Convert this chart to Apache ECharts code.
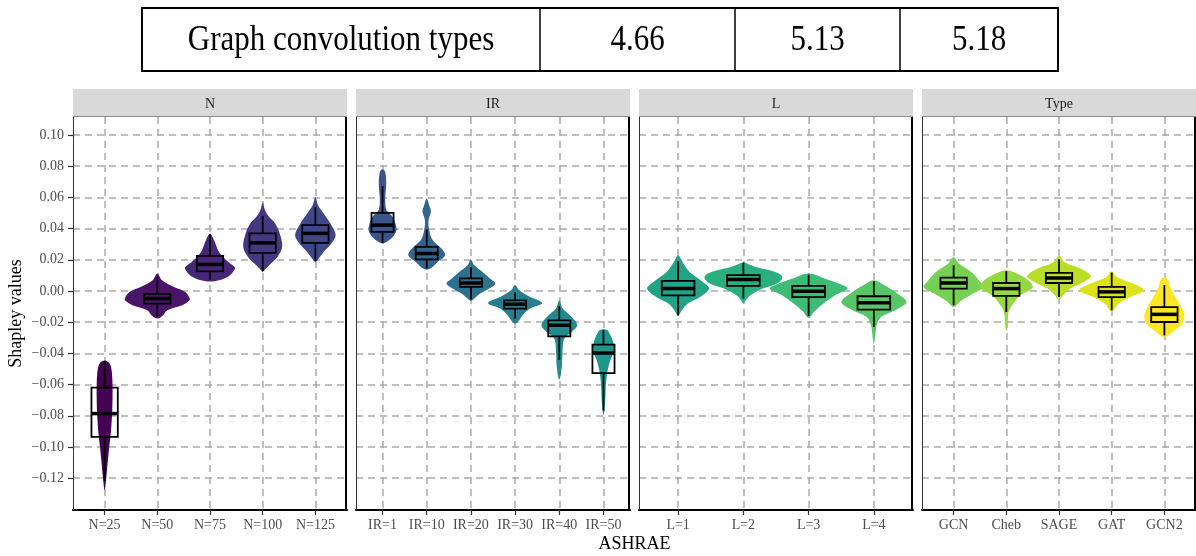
<!DOCTYPE html>
<html><head><meta charset="utf-8">
<script src="https://cdn.jsdelivr.net/npm/echarts@6/dist/echarts.min.js"></script>
<style>html,body{margin:0;padding:0;background:#fff}#c{width:1196px;height:556px}</style>
</head><body><div id="c"></div>
<script>
// ---------- data ----------
const panelTitles = ['N', 'IR', 'L', 'Type'];
const catN = ['N=25', 'N=50', 'N=75', 'N=100', 'N=125'];
const catIR = ['IR=1', 'IR=10', 'IR=20', 'IR=30', 'IR=40', 'IR=50'];
const catL = ['L=1', 'L=2', 'L=3', 'L=4'];
const catType = ['GCN', 'Cheb', 'SAGE', 'GAT', 'GCN2'];
const yTicks = [-0.12, -0.10, -0.08, -0.06, -0.04, -0.02, 0.00, 0.02, 0.04, 0.06, 0.08, 0.10];
const tableCells = ['Graph convolution types', '4.66', '5.13', '5.18'];
const xTitle = 'ASHRAE';
const yTitle = 'Shapley values';

// box stats: [lower whisker, q1, median, q3, upper whisker]
const boxN = [
  [-0.1220, -0.0935, -0.0786, -0.0620, -0.0447],
  [-0.0163, -0.0081, -0.0049, -0.0019, 0.0086],
  [0.0072, 0.0125, 0.0170, 0.0225, 0.0364],
  [0.0128, 0.0244, 0.0308, 0.0369, 0.0480],
  [0.0193, 0.0308, 0.0369, 0.0422, 0.0540]
];
const boxIR = [
  [0.0308, 0.0379, 0.0422, 0.0501, 0.0672],
  [0.0144, 0.0202, 0.0240, 0.0283, 0.0394],
  [-0.0055, 0.0026, 0.0051, 0.0080, 0.0154],
  [-0.0177, -0.0113, -0.0085, -0.0060, -0.0006],
  [-0.0441, -0.0291, -0.0220, -0.0188, -0.0098],
  [-0.0766, -0.0527, -0.0398, -0.0344, -0.0252]
];
const boxL = [
  [-0.0156, -0.0028, 0.0015, 0.0064, 0.0191],
  [-0.0049, 0.0032, 0.0073, 0.0101, 0.0182],
  [-0.0160, -0.0039, -0.0002, 0.0032, 0.0105],
  [-0.0231, -0.0120, -0.0075, -0.0034, 0.0062]
];
const boxType = [
  [-0.0092, 0.0015, 0.0051, 0.0086, 0.0165],
  [-0.0135, -0.0032, 0.0015, 0.0051, 0.0127],
  [-0.0039, 0.0051, 0.0083, 0.0116, 0.0204],
  [-0.0124, -0.0039, -0.0006, 0.0026, 0.0118],
  [-0.0285, -0.0199, -0.0150, -0.0103, 0.0037]
];

// violin density profiles: [value, half-width in category units], top to bottom
const violinN = [
  [[-0.0447, 0], [-0.0455, 0.07], [-0.0480, 0.115], [-0.053, 0.14], [-0.060, 0.15], [-0.070, 0.15], [-0.080, 0.14], [-0.092, 0.115], [-0.100, 0.088], [-0.110, 0.058], [-0.120, 0.03], [-0.1276, 0]],
  [[0.0112, 0], [0.0069, 0.089], [0.0026, 0.317], [-0.0006, 0.531], [-0.0049, 0.617], [-0.0065, 0.60], [-0.0092, 0.474], [-0.0124, 0.19], [-0.0156, 0.11], [-0.0177, 0]],
  [[0.0369, 0], [0.0326, 0.076], [0.0261, 0.152], [0.0218, 0.243], [0.0186, 0.347], [0.0150, 0.474], [0.0122, 0.436], [0.0090, 0.332], [0.0069, 0.17], [0.0060, 0]],
  [[0.0565, 0], [0.0518, 0.044], [0.0475, 0.12], [0.0433, 0.237], [0.0369, 0.323], [0.0283, 0.37], [0.0218, 0.279], [0.0176, 0.157], [0.0133, 0.032], [0.0122, 0]],
  [[0.0600, 0], [0.0550, 0.051], [0.0497, 0.157], [0.0433, 0.285], [0.0358, 0.385], [0.0304, 0.304], [0.0250, 0.157], [0.0208, 0.063], [0.0186, 0]]
];
const violinIR = [
  [[0.0780, 0], [0.0765, 0.057], [0.0690, 0.084], [0.0583, 0.061], [0.0518, 0.091], [0.0475, 0.227], [0.0400, 0.317], [0.0358, 0.265], [0.0326, 0.152], [0.0304, 0]],
  [[0.0593, 0], [0.0550, 0.057], [0.0507, 0.095], [0.0454, 0.041], [0.0390, 0.057], [0.0326, 0.132], [0.0272, 0.333], [0.0229, 0.415], [0.0186, 0.245], [0.0154, 0.132], [0.0137, 0]],
  [[0.0202, 0], [0.0165, 0.075], [0.0122, 0.265], [0.0080, 0.431], [0.0048, 0.551], [0.0015, 0.415], [-0.0017, 0.209], [-0.0049, 0.075], [-0.0064, 0]],
  [[0.0037, 0], [0.0004, 0.095], [-0.0039, 0.34], [-0.0077, 0.612], [-0.0113, 0.34], [-0.0156, 0.17], [-0.0188, 0.091], [-0.0210, 0]],
  [[-0.0060, 0], [-0.0113, 0.075], [-0.0167, 0.283], [-0.0220, 0.404], [-0.0263, 0.283], [-0.0306, 0.113], [-0.0381, 0.075], [-0.0488, 0.057], [-0.0569, 0]],
  [[-0.0246, 0], [-0.0252, 0.09], [-0.0270, 0.13], [-0.0317, 0.209], [-0.0381, 0.238], [-0.0445, 0.152], [-0.0509, 0.095], [-0.0595, 0.057], [-0.0702, 0.039], [-0.0798, 0]]
];
const violinL = [
  [[0.0229, 0], [0.0186, 0.067], [0.0122, 0.176], [0.0058, 0.38], [0.0015, 0.475], [-0.0039, 0.337], [-0.0081, 0.15], [-0.0124, 0.057], [-0.0160, 0]],
  [[0.0182, 0], [0.0170, 0.09], [0.0154, 0.19], [0.0122, 0.489], [0.0090, 0.597], [0.0047, 0.516], [0.0015, 0.299], [-0.0028, 0.109], [-0.0060, 0.035], [-0.0081, 0]],
  [[0.0112, 0], [0.0080, 0.245], [0.0047, 0.461], [0.0015, 0.597], [-0.0028, 0.407], [-0.0081, 0.23], [-0.0135, 0.081], [-0.0173, 0]],
  [[0.0069, 0], [0.0037, 0.162], [-0.0006, 0.326], [-0.0071, 0.499], [-0.0124, 0.326], [-0.0167, 0.109], [-0.0220, 0.043], [-0.0263, 0.028], [-0.0338, 0]]
];
const violinType = [
  [[0.0218, 0], [0.0176, 0.101], [0.0122, 0.336], [0.0058, 0.505], [0.0026, 0.569], [-0.0017, 0.37], [-0.0060, 0.156], [-0.0090, 0.057], [-0.0103, 0]],
  [[0.0133, 0], [0.0101, 0.269], [0.0058, 0.455], [0.0019, 0.497], [-0.0028, 0.269], [-0.0081, 0.135], [-0.0135, 0.044], [-0.0199, 0.027], [-0.0259, 0]],
  [[0.0229, 0], [0.0186, 0.101], [0.0144, 0.404], [0.0096, 0.605], [0.0058, 0.471], [0.0015, 0.218], [-0.0028, 0.08], [-0.0053, 0]],
  [[0.0127, 0], [0.0090, 0.101], [0.0047, 0.404], [0.0004, 0.613], [-0.0039, 0.353], [-0.0081, 0.135], [-0.0130, 0]],
  [[0.0086, 0], [0.0075, 0.066], [0.0037, 0.101], [-0.0028, 0.186], [-0.0092, 0.304], [-0.0156, 0.38], [-0.0210, 0.343], [-0.0252, 0.201], [-0.0295, 0]]
];

// viridis palette (20 levels)
const viridis = ['#440154', '#481568', '#482677', '#453781', '#3F4788', '#39558C', '#32648E', '#2D718E', '#287D8E', '#238A8D',
  '#1F968B', '#20A386', '#29AF7F', '#3CBC75', '#56C667', '#75D054', '#95D840', '#BADE28', '#DDE318', '#FDE725'];

// ---------- layout ----------
const FONT = 'Liberation Serif';
const panelLeft0 = 73, panelStep = 283, panelW = 274, panelTop = 117, panelH = 393;
const stripTop = 89, stripH = 28;
const yMin = -0.1404, yMax = 0.1115;

const panelCats = [catN, catIR, catL, catType];
const panelBoxes = [boxN, boxIR, boxL, boxType];
const panelViolins = [violinN, violinIR, violinL, violinType];

const grid = [], xAxis = [], yAxis = [], series = [], graphic = [];
let colorIdx = 0;
const gridColor = '#ABABAB';

panelCats.forEach((cats, p) => {
  const left = panelLeft0 + panelStep * p;
  grid.push({ left: left, top: panelTop, width: panelW, height: panelH, show: false });
  const idx = cats.map((c, i) => i + 1);
  xAxis.push({
    type: 'value', gridIndex: p, min: 0.4, max: cats.length + 0.6,
    axisLine: { show: true, onZero: false, lineStyle: { color: '#000', width: 2 } },
    axisTick: { show: true, customValues: idx, length: 5, lineStyle: { color: '#333', width: 1.2 } },
    axisLabel: { customValues: idx, formatter: v => cats[Math.round(v) - 1] || '', margin: 8,
      fontFamily: FONT, fontSize: 14, color: '#4D4D4D' },
    splitLine: { show: true, lineStyle: { color: gridColor, width: 1.5, type: [7, 5] } }
  });
  yAxis.push({
    type: 'value', gridIndex: p, min: yMin, max: yMax,
    axisLine: { show: false, onZero: false },
    axisTick: { show: p === 0, customValues: yTicks, length: 5, lineStyle: { color: '#333', width: 1.2 } },
    axisLabel: { show: p === 0, customValues: yTicks, margin: 9,
      formatter: v => v.toFixed(2).replace('-', '\u2212'),
      fontFamily: FONT, fontSize: 14, color: '#4D4D4D' },
    splitLine: { show: true, lineStyle: { color: gridColor, width: 1.5, type: [7, 5] } }
  });
  const boxes = panelBoxes[p], violins = panelViolins[p];
  const colors = cats.map(() => viridis[colorIdx++]);
  series.push({
    type: 'custom', xAxisIndex: p, yAxisIndex: p,
    data: idx.map(i => [i, boxes[i - 1][2]]),
    renderItem: function (params, api) {
      const k = params.dataIndex, cx = k + 1;
      const prof = violins[k], b = boxes[k];
      const rightSide = prof.map(([v, hw]) => api.coord([cx + hw, v]));
      const leftSide = prof.slice(1, -1).reverse().map(([v, hw]) => api.coord([cx - hw, v]));
      const pts = rightSide.concat(leftSide);
      const bw = 0.25;
      const tl = api.coord([cx - bw, b[3]]), br = api.coord([cx + bw, b[1]]);
      const m1 = api.coord([cx - bw, b[2]]), m2 = api.coord([cx + bw, b[2]]);
      const wTop1 = api.coord([cx, b[4]]), wTop2 = api.coord([cx, b[3]]);
      const wBot1 = api.coord([cx, b[1]]), wBot2 = api.coord([cx, b[0]]);
      const line = (a, c, w) => ({ type: 'line', shape: { x1: a[0], y1: a[1], x2: c[0], y2: c[1] },
        style: { stroke: '#000', lineWidth: w } });
      return {
        type: 'group', children: [
          { type: 'polygon', shape: { points: pts, smooth: 0.35 }, style: { fill: colors[k], stroke: null } },
          line(wTop1, wTop2, 1.8),
          line(wBot1, wBot2, 1.8),
          { type: 'rect', shape: { x: tl[0], y: tl[1], width: br[0] - tl[0], height: br[1] - tl[1] },
            style: { fill: null, stroke: '#000', lineWidth: 1.8 } },
          line(m1, m2, 3.5)
        ]
      };
    }
  });
  // strip header
  graphic.push({ type: 'rect', shape: { x: left, y: stripTop, width: panelW, height: stripH },
    style: { fill: '#D9D9D9' }, z: 10 });
  graphic.push({ type: 'line', shape: { x1: left, y1: panelTop - 0.5, x2: left + panelW, y2: panelTop - 0.5 },
    style: { stroke: '#8C8C8C', lineWidth: 1 }, z: 10 });
  graphic.push({ type: 'text', x: left + panelW / 2, y: stripTop + stripH / 2 + 1, z: 11,
    style: { text: panelTitles[p], align: 'center', verticalAlign: 'middle', fontFamily: FONT, fontSize: 14, fill: '#1A1A1A' } });
  // panel border: thin left, thick right
  graphic.push({ type: 'line', shape: { x1: left + 0.5, y1: panelTop, x2: left + 0.5, y2: panelTop + panelH },
    style: { stroke: '#333', lineWidth: 1 }, z: 10 });
  graphic.push({ type: 'line', shape: { x1: left + panelW - 1, y1: panelTop, x2: left + panelW - 1, y2: panelTop + panelH + 1 },
    style: { stroke: '#000', lineWidth: 2 }, z: 10 });
});

// axis titles
graphic.push({ type: 'text', x: 634.5, y: 544, z: 11,
  style: { text: xTitle, align: 'center', verticalAlign: 'middle', fontFamily: FONT, fontSize: 18, fill: '#000' } });
graphic.push({ type: 'text', x: 16, y: 313.5, rotation: Math.PI / 2, z: 11,
  style: { text: yTitle, align: 'center', verticalAlign: 'middle', fontFamily: FONT, fontSize: 18, fill: '#000' } });

// top table
const tblX = [142, 540, 735, 900, 1058], tblTop = 8, tblBot = 71;
graphic.push({ type: 'rect', shape: { x: tblX[0], y: tblTop, width: tblX[4] - tblX[0], height: tblBot - tblTop },
  style: { fill: '#fff', stroke: '#000', lineWidth: 2 }, z: 10 });
for (let i = 1; i < 4; i++) {
  graphic.push({ type: 'line', shape: { x1: tblX[i], y1: tblTop, x2: tblX[i], y2: tblBot },
    style: { stroke: '#000', lineWidth: 1.5 }, z: 11 });
}
tableCells.forEach((t, i) => {
  graphic.push({ type: 'text', x: (tblX[i] + tblX[i + 1]) / 2, y: (tblTop + tblBot) / 2 + 1, scaleY: 1.15, z: 12,
    style: { text: t, align: 'center', verticalAlign: 'middle', fontFamily: FONT, fontSize: 31, fill: '#000' } });
});

const chart = echarts.init(document.getElementById('c'), null, { renderer: 'canvas' });
chart.setOption({ animation: false, backgroundColor: '#fff', grid, xAxis, yAxis, series, graphic });
</script></body></html>
